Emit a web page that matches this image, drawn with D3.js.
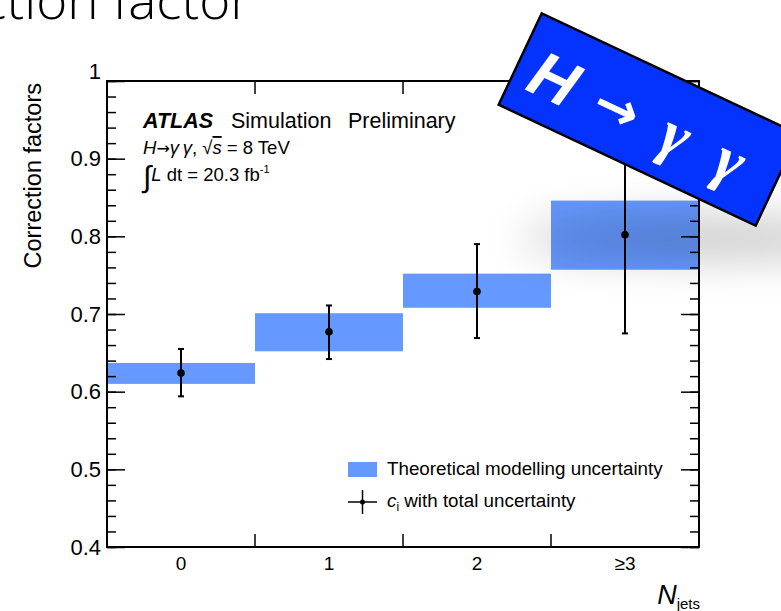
<!DOCTYPE html>
<html lang="en">
<head>
<meta charset="UTF-8" />
<title>Correction factors vs N jets</title>
<script src="https://cdn.jsdelivr.net/npm/d3@7"></script>
<style>
  body { margin: 0; background: #fff; }
  svg { display: block; font-family: "Liberation Sans", Arial, sans-serif; }
</style>
</head>
<body>
<svg id="chart" width="781" height="611"></svg>
<script>
// values
const categories = ["0", "1", "2", "\u22653"];
const central   = [0.624, 0.677, 0.729, 0.802];
const errLow    = [0.594, 0.642, 0.669, 0.675];
const errHigh   = [0.655, 0.711, 0.790, 0.930];
const bandLow   = [0.610, 0.652, 0.708, 0.757];
const bandHigh  = [0.637, 0.701, 0.752, 0.846];
const yTicks    = [0.4, 0.5, 0.6, 0.7, 0.8, 0.9, 1];

const svg = d3.select("#chart");
const W = 781, H = 611;
const m = { left: 107, right: 699, top: 81, bottom: 547 };

svg.append("rect").attr("width", W).attr("height", H).attr("fill", "#fff");

const defs = svg.append("defs");
defs.append("filter").attr("id", "blur").attr("x", "-50%").attr("y", "-300%")
    .attr("width", "200%").attr("height", "700%")
  .append("feGaussianBlur").attr("stdDeviation", 22);

// slide title, cut at the top
svg.append("text")
    .attr("x", 251).attr("y", 19)
    .attr("text-anchor", "end")
    .style("font-family", "'Open Sans', sans-serif")
    .style("font-weight", 300)
    .style("font-size", "53px")
    .text("Correction factor");

const x = d3.scaleBand().domain(categories).range([m.left, m.right]).padding(0);
const y = d3.scaleLinear().domain([0.4, 1]).range([m.bottom, m.top]);

const rows = categories.map((c, i) => ({
  c, v: central[i], lo: errLow[i], hi: errHigh[i], bl: bandLow[i], bh: bandHigh[i]
}));

// theory bands
svg.append("g").selectAll("rect").data(rows).join("rect")
    .attr("x", d => x(d.c))
    .attr("width", x.bandwidth())
    .attr("y", d => y(d.bh))
    .attr("height", d => y(d.bl) - y(d.bh))
    .attr("fill", "#6699ff");

// error bars
const eb = svg.append("g").attr("stroke", "#000").attr("stroke-width", 2);
const cx = d => x(d.c) + x.bandwidth() / 2;
eb.selectAll("line.v").data(rows).join("line").attr("class", "v")
    .attr("x1", cx).attr("x2", cx)
    .attr("y1", d => y(d.lo)).attr("y2", d => y(d.hi));
eb.selectAll("line.cl").data(rows).join("line").attr("class", "cl")
    .attr("x1", d => cx(d) - 3).attr("x2", d => cx(d) + 3)
    .attr("y1", d => y(d.lo)).attr("y2", d => y(d.lo));
eb.selectAll("line.ch").data(rows).join("line").attr("class", "ch")
    .attr("x1", d => cx(d) - 3).attr("x2", d => cx(d) + 3)
    .attr("y1", d => y(d.hi)).attr("y2", d => y(d.hi));
svg.append("g").selectAll("circle").data(rows).join("circle")
    .attr("cx", cx).attr("cy", d => y(d.v)).attr("r", 3.8).attr("fill", "#000");

// axes, ROOT style ticks pointing inward
const minor = d3.range(0.4, 1.0001, 0.02).map(v => +v.toFixed(2));
const fmt = v => (v === 1 ? "1" : d3.format(".1f")(v));

function styleAxis(g) {
  g.select(".domain").remove();
  g.selectAll("line").attr("stroke", "#000").attr("stroke-width", 1.5);
  g.selectAll("text").style("font-size", "22px").attr("fill", "#000");
}

svg.append("g").attr("transform", `translate(${m.left},0)`)
    .call(d3.axisLeft(y).tickValues(minor).tickSizeInner(-9).tickSizeOuter(0).tickFormat(""))
    .call(styleAxis);
svg.append("g").attr("transform", `translate(${m.left},0)`)
    .call(d3.axisLeft(y).tickValues(yTicks).tickSizeInner(-18).tickSizeOuter(0).tickPadding(6).tickFormat(fmt))
    .call(styleAxis)
    .call(g => g.selectAll("text").filter(d => d === 1).attr("dy", "-0.1em"));
svg.append("g").attr("transform", `translate(${m.right},0)`)
    .call(d3.axisRight(y).tickValues(minor).tickSizeInner(-9).tickSizeOuter(0).tickFormat(""))
    .call(styleAxis);
svg.append("g").attr("transform", `translate(${m.right},0)`)
    .call(d3.axisRight(y).tickValues(yTicks).tickSizeInner(-18).tickSizeOuter(0).tickFormat(""))
    .call(styleAxis);

const edges = categories.slice(1).map(c => x(c));
svg.append("g").selectAll("line").data(edges).join("line")
    .attr("x1", d => d).attr("x2", d => d)
    .attr("y1", m.bottom).attr("y2", m.bottom - 13)
    .attr("stroke", "#000").attr("stroke-width", 1.5);
svg.append("g").selectAll("line").data(edges).join("line")
    .attr("x1", d => d).attr("x2", d => d)
    .attr("y1", m.top).attr("y2", m.top + 13)
    .attr("stroke", "#000").attr("stroke-width", 1.5);
svg.append("g").attr("transform", `translate(0,${m.bottom})`)
    .call(d3.axisBottom(x).tickSize(0).tickPadding(10))
    .call(styleAxis)
    .call(g => g.selectAll("text").style("font-size", "19px"));

// frame
svg.append("rect")
    .attr("x", m.left).attr("y", m.top)
    .attr("width", m.right - m.left).attr("height", m.bottom - m.top)
    .attr("fill", "none").attr("stroke", "#000").attr("stroke-width", 2);

// axis titles
svg.append("text")
    .attr("transform", "translate(41,83) rotate(-90)")
    .attr("text-anchor", "end")
    .style("font-size", "23.5px")
    .text("Correction factors");

const xt = svg.append("text").attr("x", 700).attr("y", 604).attr("text-anchor", "end");
xt.append("tspan").style("font-style", "italic").style("font-size", "27px").text("N");
xt.append("tspan").attr("dy", 5).style("font-size", "15px").text("jets");

// ATLAS label
const t1 = svg.append("text").attr("x", 143).attr("y", 128).style("font-size", "21.5px");
t1.append("tspan").style("font-weight", "bold").style("font-style", "italic").text("ATLAS");
t1.append("tspan").attr("x", 231).text("Simulation");
t1.append("tspan").attr("x", 348).text("Preliminary");

const t2 = svg.append("text").attr("x", 143).attr("y", 154).style("font-size", "18.5px");
t2.append("tspan").style("font-style", "italic").text("H");
t2.append("tspan").style("font-family", "'DejaVu Sans', sans-serif").style("font-size", "16px").text("\u2192");
t2.append("tspan").style("font-style", "italic").text("\u03b3\u2009\u03b3");
t2.append("tspan").text(", \u221a");
t2.append("tspan").style("font-style", "italic").style("text-decoration", "overline").text("s");
t2.append("tspan").text(" = 8 TeV");

const t3 = svg.append("text").attr("x", 143).attr("y", 181).style("font-size", "18.5px");
t3.append("tspan").attr("dy", 6).style("font-size", "30px").text("\u222b");
t3.append("tspan").attr("dy", -6).style("font-style", "italic").text("L");
t3.append("tspan").text(" dt = 20.3 fb");
t3.append("tspan").attr("dy", -8).style("font-size", "11px").text("-1");

// legend
svg.append("rect").attr("x", 348).attr("y", 462).attr("width", 29).attr("height", 15).attr("fill", "#6699ff");
svg.append("text").attr("x", 387).attr("y", 475).style("font-size", "18.8px")
    .text("Theoretical modelling uncertainty");
const lg = svg.append("g").attr("stroke", "#000").attr("stroke-width", 1.5);
lg.append("line").attr("x1", 348).attr("x2", 377).attr("y1", 502).attr("y2", 502);
lg.append("line").attr("x1", 362.5).attr("x2", 362.5).attr("y1", 490).attr("y2", 514);
svg.append("circle").attr("cx", 362.5).attr("cy", 502).attr("r", 2.5).attr("fill", "#000");
const l2 = svg.append("text").attr("x", 387).attr("y", 507).style("font-size", "18.8px");
l2.append("tspan").style("font-style", "italic").text("c");
l2.append("tspan").attr("dy", 4).style("font-size", "12px").text("i");
l2.append("tspan").attr("dy", -4).text(" with total uncertainty");

// shadow of the banner
svg.append("ellipse")
    .attr("cx", 700).attr("cy", 238).attr("rx", 180).attr("ry", 20)
    .attr("fill", "#000").attr("opacity", 0.22)
    .attr("filter", "url(#blur)");

// H -> gamma gamma banner
const b = svg.append("g").attr("transform", "translate(541.7,13.3) rotate(25.2)");
b.append("rect").attr("width", 284).attr("height", 101)
    .attr("fill", "#0433ff").attr("stroke", "#000").attr("stroke-width", 2.5);
const bt = b.append("g").attr("fill", "#fff").style("font-weight", "bold").style("font-size", "64px");
bt.append("text").attr("x", 16).attr("y", 76).style("font-style", "italic").text("H");
bt.append("text").attr("x", 86).attr("y", 72)
    .style("font-family", "'DejaVu Sans', sans-serif").style("font-size", "54px").text("\u2192");
bt.append("text").attr("x", 160).attr("y", 74)
    .style("font-family", "'Liberation Serif', serif").style("font-style", "italic").text("\u03b3");
bt.append("text").attr("x", 220).attr("y", 74)
    .style("font-family", "'Liberation Serif', serif").style("font-style", "italic").text("\u03b3");
</script>
</body>
</html>
